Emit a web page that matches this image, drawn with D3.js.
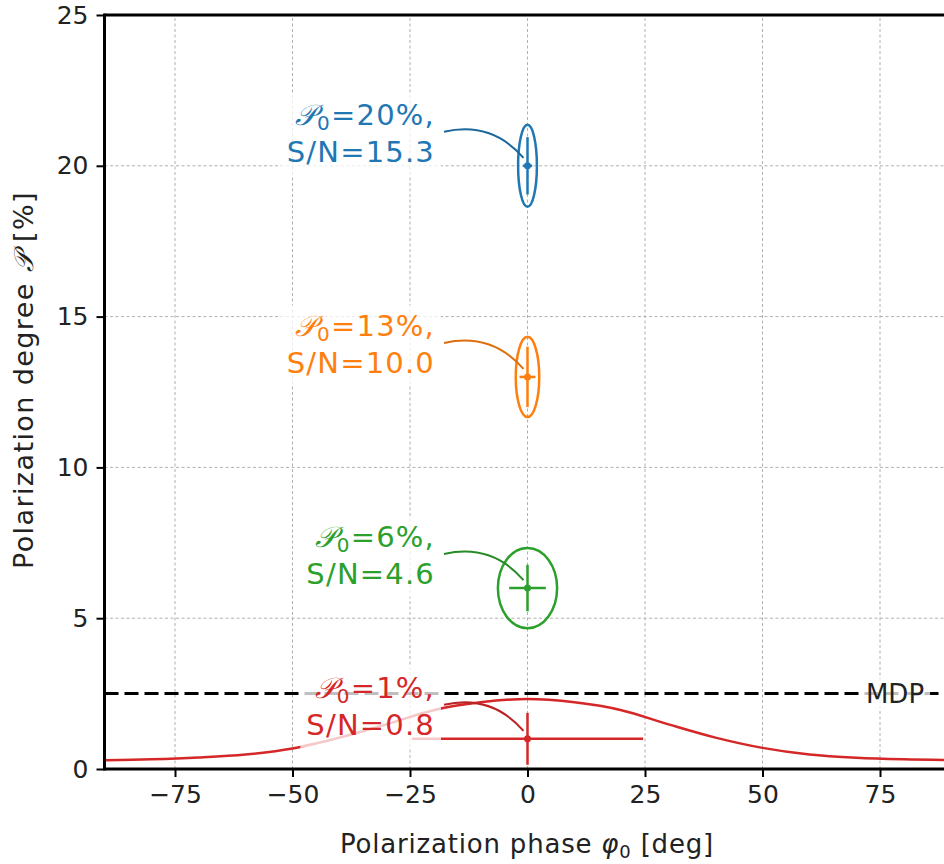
<!DOCTYPE html>
<html>
<head>
<meta charset="utf-8">
<script src="https://cdn.jsdelivr.net/npm/d3@7"></script>
<style>
  body { margin: 0; background: #fff; }
  text { font-family: "DejaVu Sans", sans-serif; }
</style>
</head>
<body>
<div id="chart-area"></div>
<script>
// Data
var xTicks = [-75, -50, -25, 0, 25, 50, 75];
var yTicks = [0, 5, 10, 15, 20, 25];

var labelP0 = ["20%", "13%", "6%", "1%"];
var labelSN = ["15.3", "10.0", "4.6", "0.8"];
var pointPhase = [0, 0, 0, 0];
var pointP = [20, 13, 6, 1];
var errP = [0.95, 1.0, 0.77, 0.86];
var errPhase = [1.0, 1.7, 3.9, 24.6];
var ellPhase = [2.0, 2.5, 6.3, null];
var ellP = [1.36, 1.33, 1.33, null];
var colors = ["#1f77b4", "#ff7f0e", "#2ca02c", "#d62728"];

var curvePhase = [-90, -80, -70, -60, -50, -40, -30, -20, -10, 0, 10, 20, 30, 40, 50, 60, 70, 80, 90];
var curveP = [0.29, 0.32, 0.38, 0.48, 0.68, 1.04, 1.48, 1.95, 2.21, 2.32, 2.21, 1.95, 1.48, 1.04, 0.70, 0.48, 0.37, 0.32, 0.30];

var mdp = 2.5;

var W = 944, H = 864;

var svg = d3.select("#chart-area")
    .append("svg")
    .attr("width", W)
    .attr("height", H);

// Scales
var x = d3.scaleLinear().domain([-90, 90]).range([104.5, 950.5]);
var y = d3.scaleLinear().domain([0, 25]).range([769, 15]);

// Grid
var grid = svg.append("g").attr("class", "grid");
grid.selectAll(".gx").data(xTicks).enter().append("line")
    .attr("x1", d => x(d)).attr("x2", d => x(d))
    .attr("y1", y(0)).attr("y2", y(25))
    .attr("stroke", "#b0b0b0").attr("stroke-width", 1).attr("stroke-dasharray", "3,2.5");
grid.selectAll(".gy").data(yTicks).enter().append("line")
    .attr("x1", x(-90)).attr("x2", x(90))
    .attr("y1", d => y(d)).attr("y2", d => y(d))
    .attr("stroke", "#b0b0b0").attr("stroke-width", 1).attr("stroke-dasharray", "3,2.5");

// MDP line
svg.append("line")
    .attr("x1", x(-90)).attr("x2", x(90))
    .attr("y1", y(mdp)).attr("y2", y(mdp))
    .attr("stroke", "#000").attr("stroke-width", 3).attr("stroke-dasharray", "14,6");

// Red phase distribution curve
var line = d3.line()
    .x((d, i) => x(curvePhase[i]))
    .y(d => y(d))
    .curve(d3.curveCatmullRom);
svg.append("path")
    .datum(curveP)
    .attr("d", line)
    .attr("fill", "none")
    .attr("stroke", colors[3])
    .attr("stroke-width", 2.5);

// Ellipses, error bars, points
var idx = d3.range(pointP.length);
var marks = svg.append("g");
marks.selectAll("ellipse").data(idx.filter(i => ellP[i] !== null)).enter().append("ellipse")
    .attr("cx", i => x(pointPhase[i]))
    .attr("cy", i => y(pointP[i]))
    .attr("rx", i => x(ellPhase[i]) - x(0))
    .attr("ry", i => y(0) - y(ellP[i]))
    .attr("fill", "none")
    .attr("stroke", i => colors[i])
    .attr("stroke-width", 2.5);
marks.selectAll(".ev").data(idx).enter().append("line")
    .attr("x1", i => x(pointPhase[i])).attr("x2", i => x(pointPhase[i]))
    .attr("y1", i => y(pointP[i] - errP[i])).attr("y2", i => y(pointP[i] + errP[i]))
    .attr("stroke", i => colors[i]).attr("stroke-width", 2.5);
marks.selectAll(".eh").data(idx).enter().append("line")
    .attr("x1", i => x(pointPhase[i] - errPhase[i])).attr("x2", i => x(pointPhase[i] + errPhase[i]))
    .attr("y1", i => y(pointP[i])).attr("y2", i => y(pointP[i]))
    .attr("stroke", i => colors[i]).attr("stroke-width", 2.5);
marks.selectAll("circle").data(idx).enter().append("circle")
    .attr("cx", i => x(pointPhase[i]))
    .attr("cy", i => y(pointP[i]))
    .attr("r", 3.5)
    .attr("fill", i => colors[i]);

// Annotations
var textRight = 435;
idx.forEach(function(i) {
    var py = y(pointP[i]);
    var g = svg.append("g");
    var box = g.append("rect").attr("fill", "#fff").attr("fill-opacity", 0.75);
    var t = g.append("text")
        .attr("text-anchor", "end")
        .attr("font-size", "29px")
        .attr("letter-spacing", "1.2px")
        .attr("fill", colors[i]);
    var l1 = t.append("tspan").attr("x", textRight).attr("y", py - 41);
    l1.append("tspan").attr("font-family", "DejaVu Serif").attr("font-style", "italic").text("𝒫");
    l1.append("tspan").attr("font-size", "20px").attr("dy", 5).text("0");
    l1.append("tspan").attr("dy", -5).text("=" + labelP0[i] + ",");
    t.append("tspan").attr("x", textRight).attr("y", py - 4).text("S/N=" + labelSN[i]);
    var bb = t.node().getBBox();
    box.attr("x", bb.x - 6).attr("y", bb.y - 4).attr("width", bb.width + 12).attr("height", bb.height + 10);

    // connector (arc)
    var sx = textRight + 9, sy = py - 34;
    var ex = x(pointPhase[i]) - 4, ey = py - 8;
    var mx = (sx + ex) / 2, my = (sy + ey) / 2, rad = 0.3;
    var cx = mx + rad * (ey - sy), cy = my - rad * (ex - sx);
    g.append("path")
        .attr("d", "M" + sx + "," + sy + "Q" + cx + "," + cy + " " + ex + "," + ey)
        .attr("fill", "none")
        .attr("stroke", d3.color(colors[i]).darker(0.4))
        .attr("stroke-width", 2);
});

// MDP label
var mg = svg.append("g");
var mbox = mg.append("rect").attr("fill", "#fff").attr("fill-opacity", 0.75);
var mt = mg.append("text")
    .attr("x", 895).attr("y", y(mdp) + 9)
    .attr("text-anchor", "middle")
    .attr("font-size", "26px")
    .attr("fill", "#222")
    .text("MDP");
var mb = mt.node().getBBox();
mbox.attr("x", mb.x - 6).attr("y", mb.y).attr("width", mb.width + 12).attr("height", mb.height);

// Axes
var xAxis = svg.append("g")
    .attr("transform", "translate(0," + y(0) + ")")
    .call(d3.axisBottom(x).tickValues(xTicks).tickSize(8).tickPadding(8)
        .tickFormat(d => d < 0 ? "\u2212" + Math.abs(d) : d));
var yAxis = svg.append("g")
    .attr("transform", "translate(" + x(-90) + ",0)")
    .call(d3.axisLeft(y).tickValues(yTicks).tickSize(8).tickPadding(8));
[xAxis, yAxis].forEach(function(a) {
    a.select(".domain").remove();
    a.selectAll(".tick line").attr("stroke", "#000").attr("stroke-width", 2);
    a.selectAll(".tick text").attr("font-size", "25px").attr("fill", "#222")
        .attr("font-family", "DejaVu Sans");
});

// Spines
svg.append("line").attr("x1", x(-90)).attr("x2", x(-90)).attr("y1", y(0) + 1.5).attr("y2", y(25) - 1.5)
    .attr("stroke", "#000").attr("stroke-width", 3);
svg.append("line").attr("x1", x(-90)).attr("x2", x(90)).attr("y1", y(0)).attr("y2", y(0))
    .attr("stroke", "#000").attr("stroke-width", 3);
svg.append("line").attr("x1", x(-90)).attr("x2", x(90)).attr("y1", y(25)).attr("y2", y(25))
    .attr("stroke", "#000").attr("stroke-width", 3);

// Axis labels
var xl = svg.append("text")
    .attr("x", 527).attr("y", 853)
    .attr("text-anchor", "middle")
    .attr("font-size", "26px")
    .attr("letter-spacing", "0.8px")
    .attr("fill", "#222");
xl.append("tspan").text("Polarization phase ");
xl.append("tspan").attr("font-style", "italic").text("φ");
xl.append("tspan").attr("font-size", "18px").attr("dy", 5).text("0");
xl.append("tspan").attr("dy", -5).text(" [deg]");

var yl = svg.append("text")
    .attr("transform", "translate(33,380) rotate(-90)")
    .attr("text-anchor", "middle")
    .attr("font-size", "27px")
    .attr("letter-spacing", "1.4px")
    .attr("fill", "#222");
yl.append("tspan").text("Polarization degree ");
yl.append("tspan").attr("font-family", "DejaVu Serif").attr("font-style", "italic").text("𝒫");
yl.append("tspan").text(" [%]");
</script>
</body>
</html>
